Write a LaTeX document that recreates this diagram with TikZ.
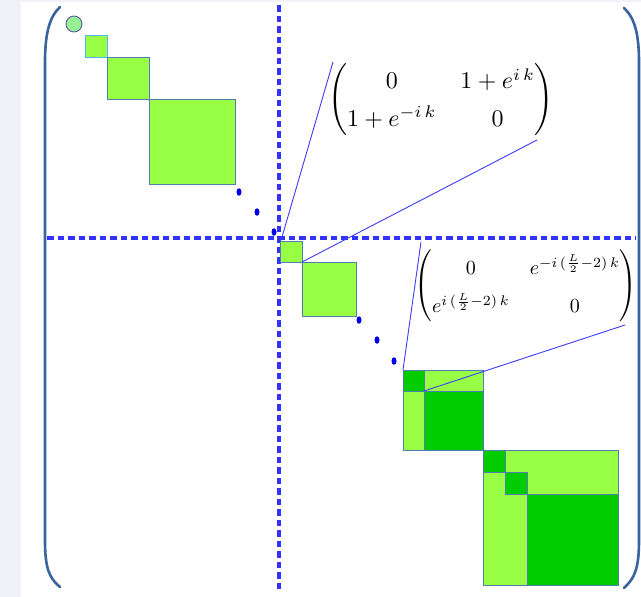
\documentclass[tikz,border=0pt]{standalone}
\usepackage{amsmath}
\usetikzlibrary{shapes.geometric}
\definecolor{bggray}{RGB}{240,242,247}
\definecolor{lgreen}{RGB}{153,255,68}
\definecolor{dgreen}{RGB}{0,204,0}
\definecolor{cgreen}{RGB}{150,240,150}
\definecolor{bordc}{RGB}{80,125,180}
\definecolor{brackc}{RGB}{58,100,160}
\definecolor{dashc}{RGB}{51,51,255}
\definecolor{zoomc}{RGB}{60,60,255}
\definecolor{dotc}{RGB}{0,0,230}
\tikzset{
  blk/.style={draw=bordc,line width=0.9pt,inner sep=0pt,outer sep=0pt,anchor=north west},
  lsq/.style={blk,fill=lgreen},
  dsq/.style={blk,fill=dgreen},
  bracketline/.style={draw=brackc,line width=2.6pt,line cap=round},
  axisline/.style={draw=dashc,line width=3.6pt,dash pattern=on 6.5pt off 4pt},
  zoomline/.style={draw=zoomc,line width=0.9pt},
  dotmark/.style={fill=dotc,ellipse,inner sep=0pt,minimum width=5pt,minimum height=7.5pt},
  mat/.style={inner sep=0pt,outer sep=0pt}
}
\begin{document}
\begin{tikzpicture}[x=1pt,y=-1pt]
\useasboundingbox (0,0) rectangle (641,597);
\fill[bggray] (0,0) rectangle (641,597);
\fill[white] (21,2) rectangle (641,597);
% brackets
\draw[bracketline] (60,7) .. controls (49,17) and (45,35) .. (45,62) -- (45,540) .. controls (45,568) and (49,578) .. (60,587);
\draw[bracketline] (624,8) .. controls (635,18) and (639,35) .. (639,62) -- (639,540) .. controls (639,568) and (635,578) .. (624,588);
% circle
\node[circle,draw=gray!70!blue,line width=0.9pt,fill=cgreen,minimum size=16pt,inner sep=0pt] (c0) at (74,24) {};
% first chain
\node[lsq,draw=blue!40!cyan!70!white,minimum width=22pt,minimum height=22pt] (s1) at (85,35) {};
\node[lsq,minimum width=42pt,minimum height=42pt] (s2) at (107,57) {};
\node[lsq,minimum width=86pt,minimum height=85pt] (s3) at (149,99) {};
\node[dotmark] (d1) at (239,192) {};
\node[dotmark] (d2) at (257,212) {};
\node[dotmark] (d3) at (274,232) {};
% axes
\draw[axisline] (279,5) -- (279,592);
\draw[axisline] (47,238) -- (636,238);
% second chain
\node[lsq,minimum width=22pt,minimum height=21pt] (s4) at (280,241) {};
\node[lsq,minimum width=54pt,minimum height=54pt] (s5) at (302,262) {};
\node[dotmark] (d4) at (359,320) {};
\node[dotmark] (d5) at (377,340) {};
\node[dotmark] (d6) at (394,361) {};
% block A
\node[lsq,minimum width=80pt,minimum height=80pt] (A) at (403,370) {};
\node[dsq,minimum width=21pt,minimum height=21pt] (a1) at (403,370) {};
\node[dsq,minimum width=59pt,minimum height=59pt] (a2) at (424,391) {};
% block B
\node[lsq,minimum width=135pt,minimum height=135pt] (B) at (483,450) {};
\node[dsq,minimum width=22pt,minimum height=22pt] (b1) at (483,450) {};
\node[dsq,minimum width=22pt,minimum height=22pt] (b2) at (505,472) {};
\node[dsq,minimum width=91pt,minimum height=91pt] (b3) at (527,494) {};
% matrices
\node[mat,scale=2.4] (m1) at (441,100) {\renewcommand{\arraystretch}{1.3}$\begin{pmatrix} 0 & 1+e^{i\,k}\\ 1+e^{-i\,k} & 0\end{pmatrix}$};
\node[mat,scale=2.0] (m2) at (526,286) {\renewcommand{\arraystretch}{1.6}$\begin{pmatrix} 0 & e^{-i\,(\frac{L}{2}-2)\,k}\\ e^{i\,(\frac{L}{2}-2)\,k} & 0\end{pmatrix}$};
% zoom lines
\coordinate (o1) at (282,237);
\coordinate (m1a) at (333,62);
\coordinate (m1b) at (537,140);
\coordinate (m2a) at (421,242);
\coordinate (m2b) at (625,325);
\draw[zoomline] (o1) -- (m1a);
\draw[zoomline] (s4.south east) -- (m1b);
\draw[zoomline] (A.north west) -- (m2a);
\draw[zoomline] (a1.south east) -- (m2b);
\end{tikzpicture}
\end{document}
